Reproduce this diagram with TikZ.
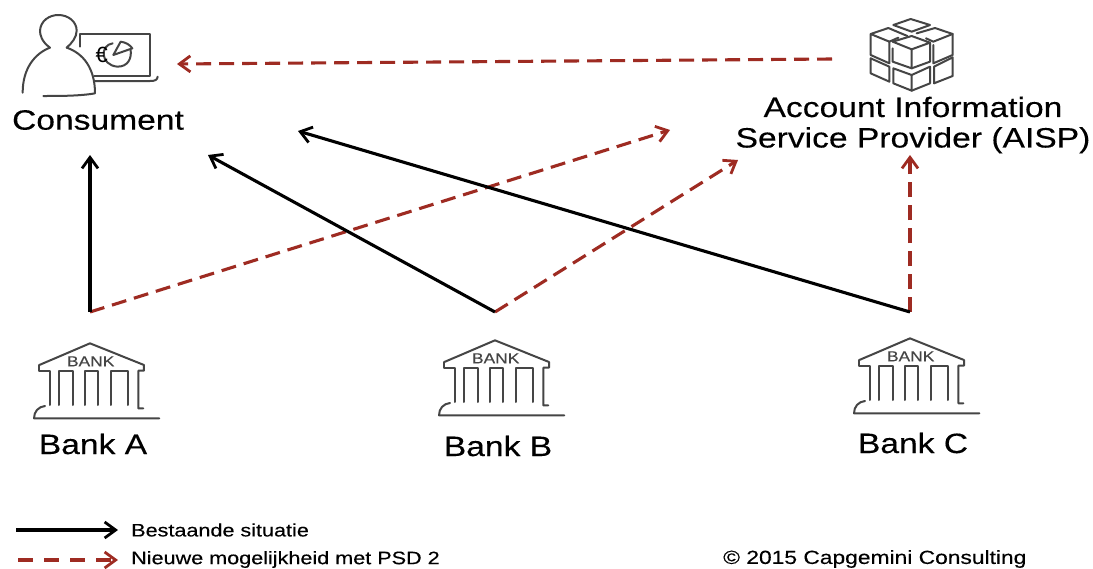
\documentclass[tikz,border=0pt]{standalone}
\usepackage{fontspec}
\setmainfont{Liberation Sans}
\newfontfamily\lblfont[FakeStretch=1.2,FakeBold=0.25]{Liberation Sans}
\usetikzlibrary{arrows.meta}
\definecolor{psdred}{HTML}{9E2B22}
\definecolor{icon}{HTML}{454545}
\tikzset{
  lbl/.style={font=\lblfont\fontsize{28}{31}\selectfont,text=black,inner sep=0pt,align=center},
  legendtxt/.style={font=\lblfont\fontsize{18}{20}\selectfont,text=black,inner sep=0pt,anchor=west},
  oldflow/.style={draw=black,line width=3.1pt,-{Straight Barb[length=11pt,width=16pt,line width=2.8pt]}},
  newflow/.style={draw=psdred,line width=3.1pt,dash pattern=on 15pt off 8pt,-{Straight Barb[length=11pt,width=16pt,line width=2.8pt]}},
  iconline/.style={draw=icon,line width=2pt,line join=round,line cap=round},
  bankicon/.pic={
    \begin{scope}[shift={(20,330)},scale=1/3,iconline]
      \draw (58,105) -- (210,40) -- (372,105) -- (372,122) -- (355,122) -- (355,235) -- (370,235);
      \draw (58,105) -- (58,122) -- (90,122) -- (90,225);
      \draw (118,225) -- (118,122) -- (160,122) -- (160,225);
      \draw (195,225) -- (195,122) -- (235,122) -- (235,225);
      \draw (272,225) -- (272,122) -- (325,122) -- (325,225);
      \draw (75,228) .. controls (55,230) and (42,245) .. (42,265) -- (418,265);
      \node[font=\lblfont\fontsize{14.5}{16}\selectfont,text=icon,inner sep=0pt] (-word) at (212,94) {BANK};
    \end{scope}
  }
}
\begin{document}
\begin{tikzpicture}[x=1pt,y=-1pt]
\useasboundingbox[fill=white] (0,0) rectangle (1093,568);

% consumer icon
\begin{scope}[scale=1/3,iconline]
  \draw (68,278) .. controls (68,205) and (105,160) .. (150,143)
        .. controls (125,125) and (120,105) .. (120,92)
        .. controls (122,62) and (148,45) .. (175,45)
        .. controls (205,45) and (230,65) .. (230,92)
        .. controls (230,112) and (215,130) .. (200,143)
        .. controls (250,160) and (285,205) .. (285,280)
        .. controls (240,288) and (180,288) .. (130,288);
  \draw (240,140) -- (240,103) -- (450,103) -- (450,228) -- (283,228);
  \draw (283,243) -- (450,243) .. controls (465,243) and (472,240) .. (473,230);
  % pie chart
  \draw (338,130) .. controls (300,135) and (300,195) .. (352,200)
        .. controls (385,200) and (395,175) .. (392,150);
  \draw (340,165) -- (362,125) .. controls (378,127) and (390,135) .. (397,145) -- cycle;
  \node[font=\fontsize{22}{23}\selectfont,text=black,inner sep=0pt] (euro) at (305,165) {€};
\end{scope}

% AISP icon
\begin{scope}[shift={(820,0)},scale=1/3,iconline]
  \draw (220,75) -- (272,57) -- (330,75) -- (275,95) -- cycle;
  \draw (262,108) -- (205,84) -- (152,102) -- (152,165) -- (208,190) -- (208,125) -- (152,102);
  \draw (208,125) -- (235,113);
  \draw (290,100) -- (345,84) -- (398,102) -- (398,165) -- (340,190) -- (340,135);
  \draw (398,102) -- (340,125) -- (318,115);
  \draw (218,125) -- (275,108) -- (330,128) -- (275,148) -- cycle;
  \draw (218,145) -- (218,185) -- (275,205) -- (275,148);
  \draw (330,128) -- (330,185) -- (275,205);
  \draw (152,175) -- (208,200) -- (208,245) -- (152,220) -- cycle;
  \draw (220,205) -- (275,225) -- (275,272) -- (220,250) -- cycle;
  \draw (275,225) -- (330,200) -- (330,250) -- (275,272);
  \draw (342,200) -- (398,172) -- (398,228) -- (342,250) -- cycle;
\end{scope}

% bank icons
\pic (iconA) at (0,0) {bankicon};
\pic (iconB) at (405,-3) {bankicon};
\pic (iconC) at (820,-5) {bankicon};

% labels
\node[lbl] (consument) at (98,120) {Consument};
\node[lbl] (aisp) at (913,125) {Account Information\\[-0.5pt]Service Provider (AISP)};
\node[lbl] (bankA) at (93,444) {Bank A};
\node[lbl] (bankB) at (498,446) {Bank B};
\node[lbl] (bankC) at (913,443) {Bank C};

% connector end points
\coordinate (fromA) at (90,312);
\coordinate (fromB) at (495,312);
\coordinate (fromC) at (910,312);
\coordinate (toConsA) at (90,155);
\coordinate (toConsB) at (208,155);
\coordinate (toConsC) at (298,131);
\coordinate (toAispA) at (670,130);
\coordinate (toAispB) at (738,160);
\coordinate (toAispC) at (910,155);
\coordinate (aispOut) at (832,59);
\coordinate (consIn) at (177,64);

% connectors
\draw[newflow] (aispOut) -- (consIn);
\draw[newflow] (fromA) -- (toAispA);
\draw[newflow] (fromB) -- (toAispB);
\draw[newflow] (fromC) -- (toAispC);
\draw[oldflow] (fromA) -- (toConsA);
\draw[oldflow] (fromB) -- (toConsB);
\draw[oldflow] (fromC) -- (toConsC);

% legend
\coordinate (legOldA) at (16,530);
\coordinate (legOldB) at (118,530);
\coordinate (legNewA) at (18,560);
\coordinate (legNewB) at (118,560);
\draw[oldflow] (legOldA) -- (legOldB);
\draw[newflow,dash pattern=on 15pt off 11pt] (legNewA) -- (legNewB);
\node[legendtxt] (legOld) at (131,530) {Bestaande situatie};
\node[legendtxt] (legNew) at (131,559.5) {Nieuwe mogelijkheid met PSD 2};
\node[legendtxt,font=\lblfont\fontsize{19}{21}\selectfont] (copyright) at (723,559) {© 2015 Capgemini Consulting};
\end{tikzpicture}
\end{document}
